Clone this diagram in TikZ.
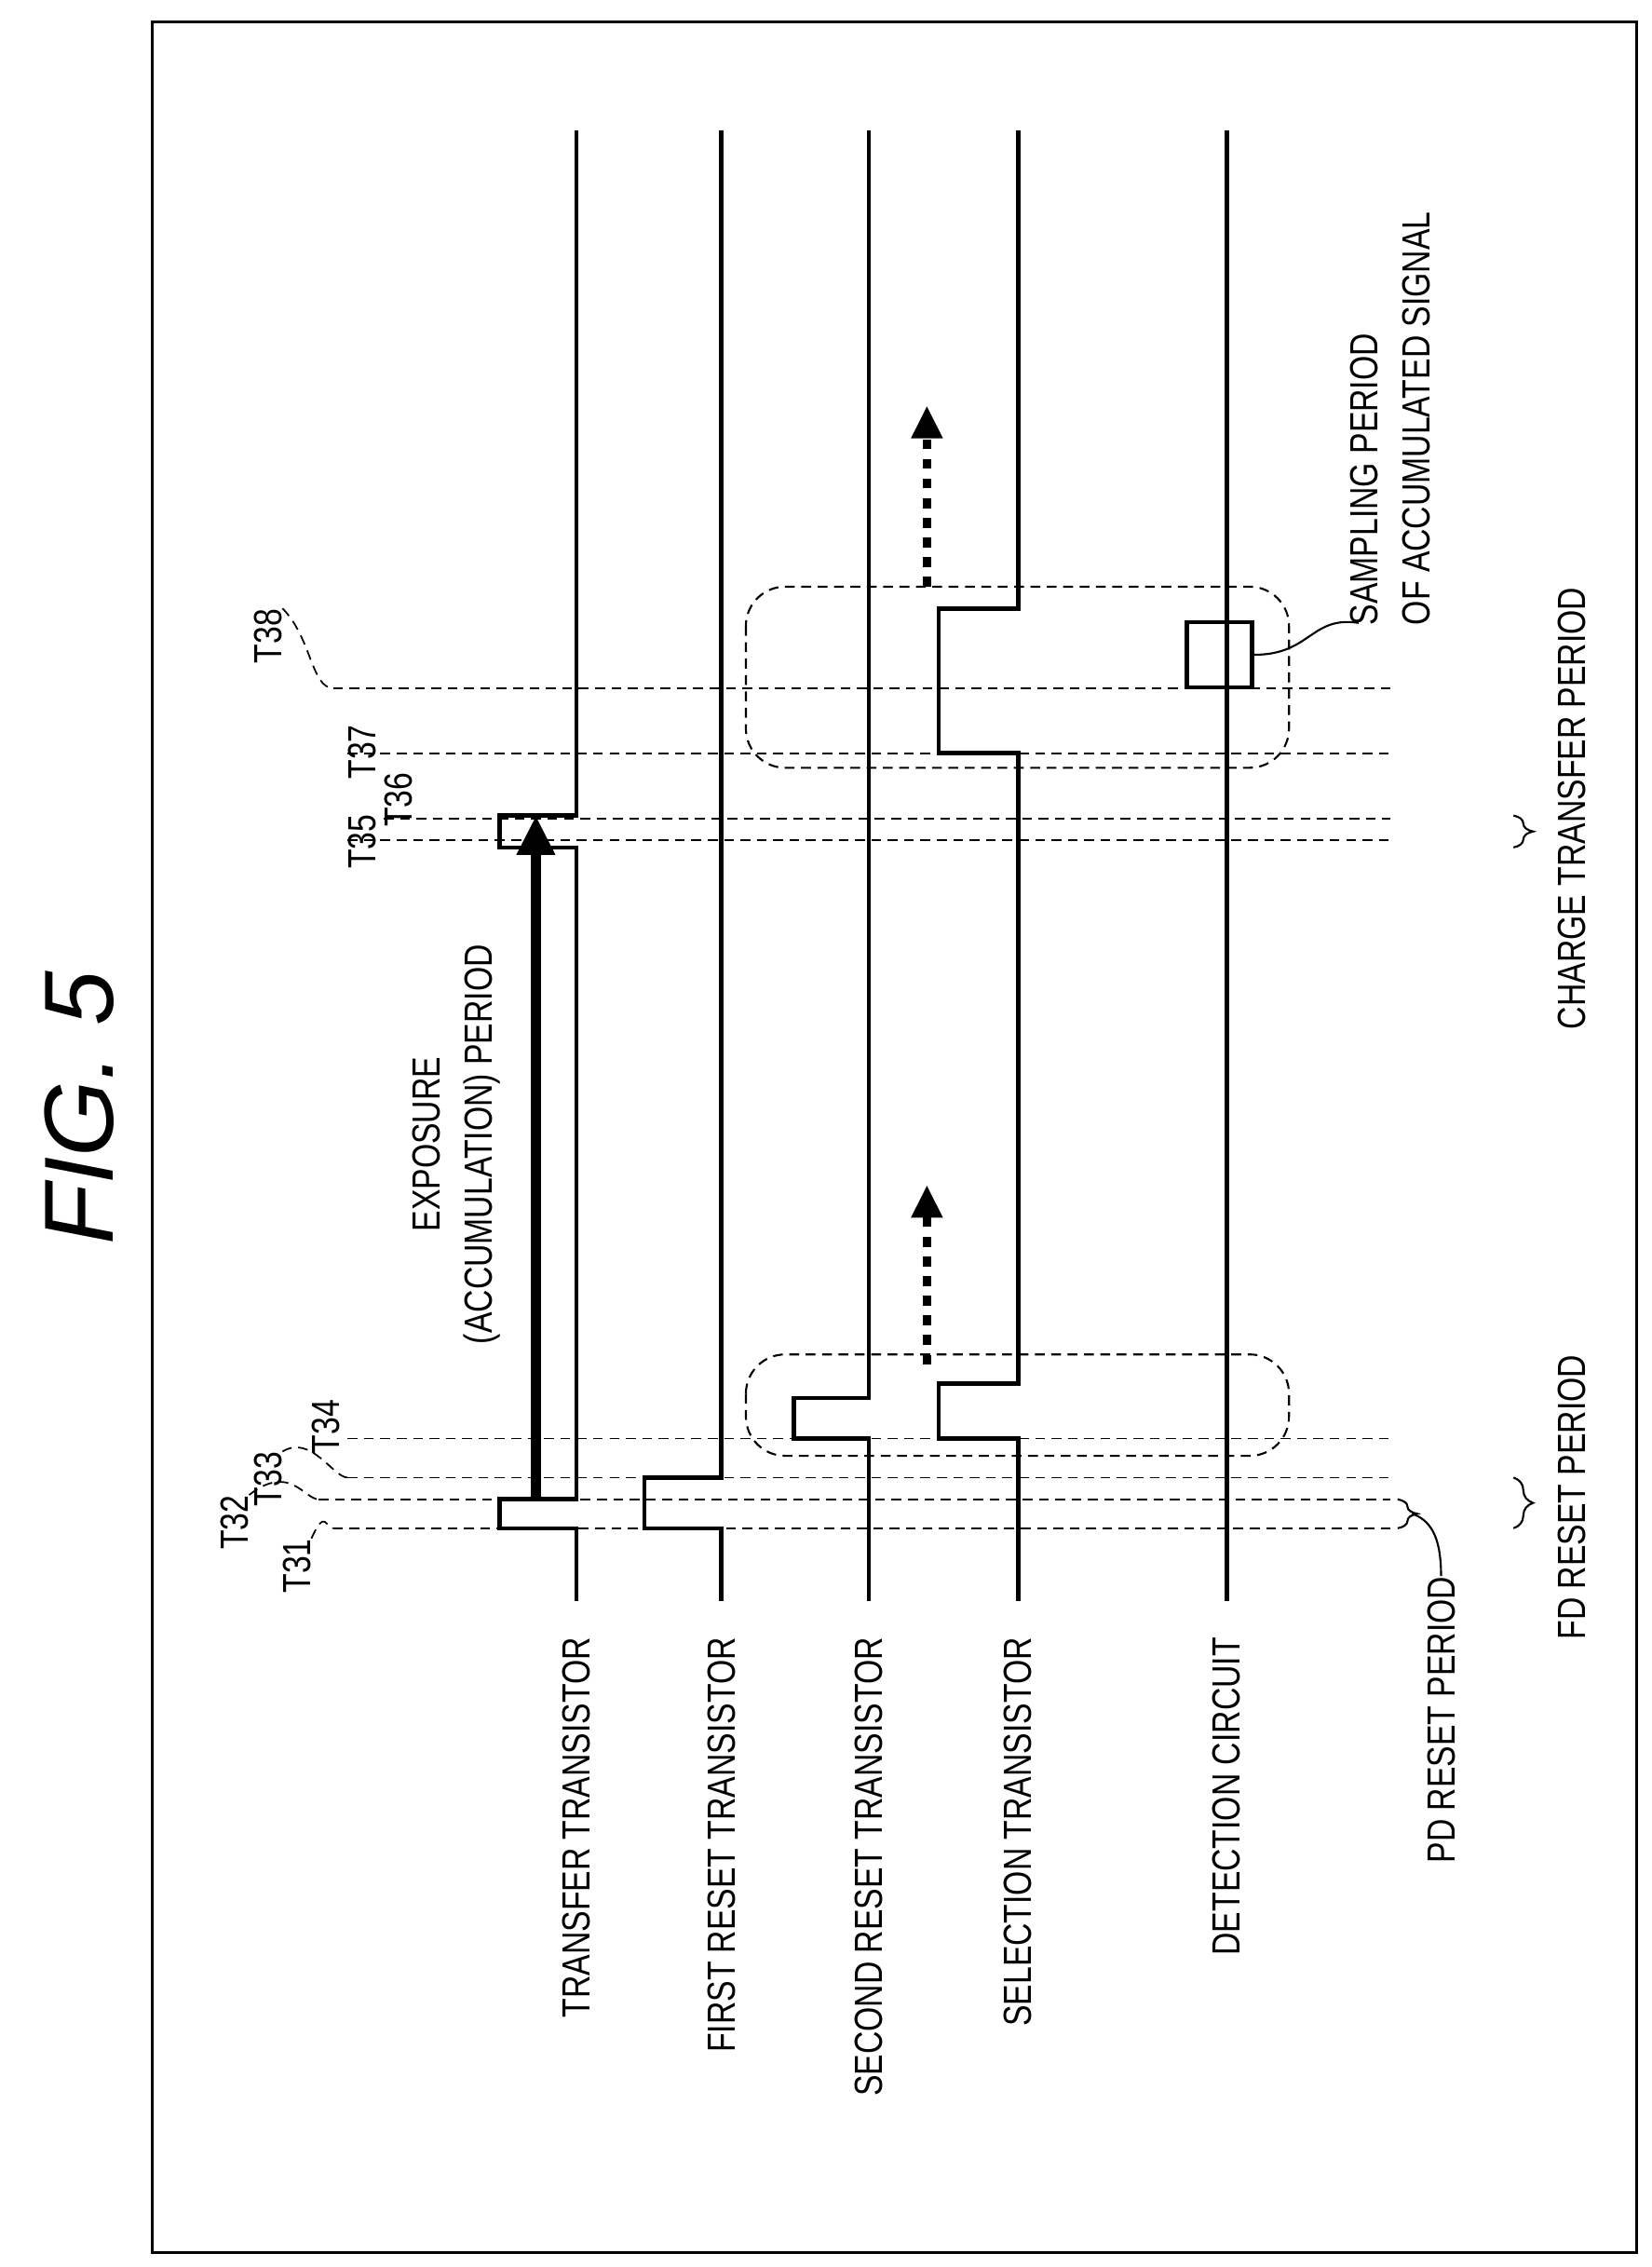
\documentclass[tikz,border=0pt]{standalone}
\usepackage{fontspec}
\setsansfont{Liberation Sans}
\usetikzlibrary{decorations.pathreplacing,arrows.meta}
\newcommand{\cnd}[1]{\scalebox{0.8}[1]{#1}}
\begin{document}
\begin{tikzpicture}[x=0.01555cm,y=-0.01555cm,
  sig/.style={line width=1.3pt},
  tim/.style={densely dashed,line width=0.5pt},
  lbl/.style={font=\sffamily\fontsize{12}{14}\selectfont,rotate=90,inner sep=0pt},
  win/.style={densely dashed,rounded corners=12pt,line width=0.6pt},
  brc/.style={decorate,decoration={brace,amplitude=6pt},line width=0.6pt}]
\useasboundingbox (0,0) rectangle (1140,1565);
\draw[line width=0.8pt] (105,15) rectangle (1130,1555);
\node[lbl,font=\sffamily\itshape\fontsize{30}{32}\selectfont] (fig) at (55,765) {FIG. 5};

% timing lines
\foreach \nm/\y/\x in {T31/1055/230,T32/1035/220,T33/1020/240,T34/993/240,T35/580/240,T36/565/265,T37/520/240,T38/475/230}{
  \coordinate (\nm a) at (\x,\y);
  \coordinate (\nm b) at (960,\y);
  \draw[tim] (\nm a) -- (\nm b);
}
\node[lbl,anchor=east] (t31) at (205,1062) {\cnd{T31}};
\node[lbl,anchor=east] (t32) at (162,1032) {\cnd{T32}};
\node[lbl,anchor=east] (t33) at (185,1002) {\cnd{T33}};
\node[lbl,anchor=east] (t34) at (225,966) {\cnd{T34}};
\node[lbl,anchor=east] (t35) at (250,562) {\cnd{T35}};
\node[lbl,anchor=east] (t36) at (275,533) {\cnd{T36}};
\node[lbl,anchor=east] (t37) at (250,500) {\cnd{T37}};
\node[lbl,anchor=east] (t38) at (185,420) {\cnd{T38}};
\draw[tim] (t31.south east) .. controls (225,1040) and (225,1056) .. (T31a);
\draw[tim] (t32.south east) .. controls (200,1010) and (210,1035) .. (T32a);
\draw[tim] (t33.south east) .. controls (215,990) and (230,1020) .. (T33a);
\draw[tim] (t38.south east) .. controls (215,440) and (215,475) .. (T38a);

% signals
\draw[sig] (398,90) -- (398,563) -- (345,563) -- (345,585) -- (398,585) -- (398,1035) -- (345,1035) -- (345,1055) -- (398,1055) -- (398,1105);
\draw[sig] (498,90) -- (498,1020) -- (445,1020) -- (445,1055) -- (498,1055) -- (498,1105);
\draw[sig] (600,90) -- (600,965) -- (548,965) -- (548,993) -- (600,993) -- (600,1105);
\draw[sig] (703,90) -- (703,420) -- (648,420) -- (648,520) -- (703,520) -- (703,955) -- (648,955) -- (648,993) -- (703,993) -- (703,1105);
\draw[sig] (847,90) -- (847,1105);
\node[draw,line width=1.3pt,minimum size=0.7cm,inner sep=0pt] (smp) at (842,452) {};

% windows and arrows
\draw[win] (515,935) rectangle (890,1005);
\draw[win] (515,405) rectangle (890,530);
\coordinate (w1) at (640,942);
\coordinate (w1e) at (640,818);
\coordinate (w2) at (640,405);
\coordinate (w2e) at (640,280);
\draw[dashed,line width=2.5pt,-{Triangle[length=10pt,width=9pt]}] (w1) -- (w1e);
\draw[dashed,line width=2.5pt,-{Triangle[length=10pt,width=9pt]}] (w2) -- (w2e);
\coordinate (ex1) at (370,1035);
\coordinate (ex2) at (370,563);
\draw[line width=3pt,-{Triangle[length=12pt,width=11pt]}] (ex1) -- (ex2);
\node[lbl,align=center] (exp) at (315,790) {\cnd{EXPOSURE}\\[2pt]\cnd{(ACCUMULATION) PERIOD}};

% row labels
\node[lbl,anchor=east] (l1) at (398,1130) {\cnd{TRANSFER TRANSISTOR}};
\node[lbl,anchor=east] (l2) at (498,1130) {\cnd{FIRST RESET TRANSISTOR}};
\node[lbl,anchor=east] (l3) at (600,1130) {\cnd{SECOND RESET TRANSISTOR}};
\node[lbl,anchor=east] (l4) at (703,1130) {\cnd{SELECTION TRANSISTOR}};
\node[lbl,anchor=east] (l5) at (847,1130) {\cnd{DETECTION CIRCUIT}};

% periods
\draw[brc] (965,1035) -- (965,1055);
\draw[brc] (1045,1020) -- (1045,1055);
\draw[brc] (1045,563) -- (1045,585);
\node[lbl,anchor=east] (pd) at (995,1088) {\cnd{PD RESET PERIOD}};
\node[lbl,anchor=east] (fd) at (1085,935) {\cnd{FD RESET PERIOD}};
\node[lbl,anchor=east] (ct) at (1085,405) {\cnd{CHARGE TRANSFER PERIOD}};
\draw[line width=0.6pt] (pd.east) .. controls (995,1065) and (990,1050) .. (975,1045);
\node[lbl,anchor=north west,align=left] (sp) at (932,432) {\cnd{SAMPLING PERIOD}\\[2pt]\cnd{OF ACCUMULATED SIGNAL}};
\draw[line width=0.6pt] (smp.east) .. controls (905,452) and (905,425) .. (938,430);
\end{tikzpicture}
\end{document}
